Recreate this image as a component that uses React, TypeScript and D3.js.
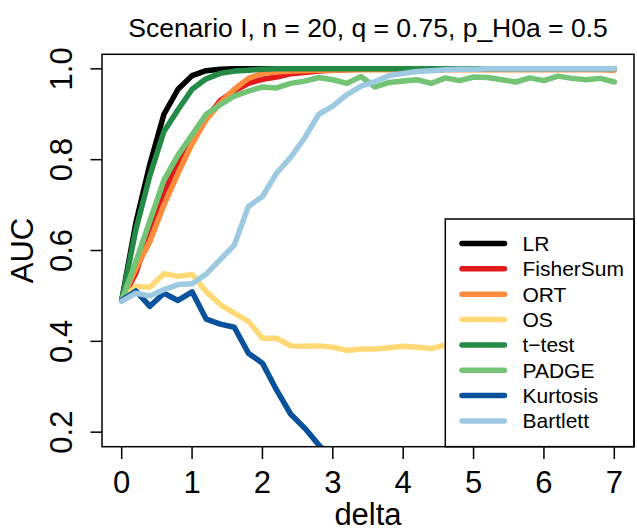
import React from "react";
import * as d3 from "d3";

const deltas = [0, 0.2, 0.4, 0.6, 0.8, 1.0, 1.2, 1.4, 1.6, 1.8, 2.0, 2.2, 2.4, 2.6, 2.8, 3.0, 3.2, 3.4, 3.6, 3.8, 4.0, 4.2, 4.4, 4.6, 4.8, 5.0, 5.2, 5.4, 5.6, 5.8, 6.0, 6.2, 6.4, 6.6, 6.8, 7.0];

const LR = [0.49, 0.66, 0.79, 0.9, 0.955, 0.985, 0.996, 0.999, 1, 1, 1, 1, 1, 1, 1, 1, 1, 1, 1, 1, 1, 1, 1, 1, 1, 1, 1, 1, 1, 1, 1, 1, 1, 1, 1, 1];
const FisherSum = [0.49, 0.55, 0.64, 0.73, 0.79, 0.845, 0.89, 0.93, 0.951, 0.968, 0.977, 0.982, 0.989, 0.992, 0.995, 0.997, 0.998, 0.999, 0.999, 1, 1, 1, 1, 1, 1, 1, 1, 1, 1, 1, 1, 1, 1, 1, 1, 1];
const ORT = [0.49, 0.56, 0.62, 0.7, 0.77, 0.835, 0.888, 0.925, 0.955, 0.979, 0.99, 0.993, 0.995, 0.996, 0.997, 0.997, 0.998, 0.998, 0.998, 0.998, 0.998, 0.998, 0.998, 0.998, 0.998, 0.998, 0.998, 0.998, 0.998, 0.998, 0.998, 0.998, 0.998, 0.998, 0.998, 0.997];
const OS = [0.49, 0.521, 0.519, 0.549, 0.543, 0.547, 0.51, 0.481, 0.462, 0.444, 0.407, 0.407, 0.39, 0.389, 0.39, 0.387, 0.38, 0.383, 0.383, 0.386, 0.389, 0.387, 0.384, 0.392, 0.39, 0.394, 0.388, 0.391, 0.395, 0.389, 0.392, 0.387, 0.393, 0.39, 0.388, 0.392];
const tTest = [0.49, 0.645, 0.765, 0.862, 0.91, 0.955, 0.978, 0.99, 0.995, 0.997, 0.999, 1, 1, 1, 1, 1, 1, 1, 1, 1, 1, 1, 1, 1, 1, 1, 1, 1, 1, 1, 1, 1, 1, 1, 1, 1];
const PADGE = [0.49, 0.575, 0.665, 0.755, 0.81, 0.855, 0.9, 0.921, 0.94, 0.951, 0.96, 0.958, 0.968, 0.973, 0.981, 0.976, 0.968, 0.983, 0.96, 0.97, 0.973, 0.976, 0.968, 0.98, 0.974, 0.982, 0.981, 0.976, 0.971, 0.98, 0.974, 0.984, 0.979, 0.976, 0.979, 0.971];
const Kurtosis = [0.49, 0.511, 0.477, 0.506, 0.49, 0.509, 0.449, 0.438, 0.431, 0.374, 0.352, 0.293, 0.24, 0.209, 0.172, 0.14, 0.12, 0.1, 0.09, 0.08, 0.07, 0.065, 0.06, 0.055, 0.05, 0.045, 0.04, 0.04, 0.035, 0.03, 0.03, 0.025, 0.025, 0.02, 0.02, 0.02];
const Bartlett = [0.488, 0.506, 0.5, 0.514, 0.525, 0.527, 0.548, 0.58, 0.612, 0.697, 0.719, 0.77, 0.805, 0.848, 0.9, 0.918, 0.943, 0.962, 0.972, 0.985, 0.99, 0.994, 0.996, 0.998, 0.999, 0.999, 1, 1, 1, 1, 1, 1, 1, 1, 1, 1];

const seriesNames = ["LR", "FisherSum", "ORT", "OS", "t\u2212test", "PADGE", "Kurtosis", "Bartlett"];
const seriesValues = [LR, FisherSum, ORT, OS, tTest, PADGE, Kurtosis, Bartlett];
const seriesColors = ["#000000", "#E31A1C", "#FD8D3C", "#FED976", "#238B45", "#74C476", "#08519C", "#9ECAE1"];

const xTicks = [0, 1, 2, 3, 4, 5, 6, 7];
const yTicks = [0.2, 0.4, 0.6, 0.8, 1.0];
const title = "Scenario I, n = 20, q = 0.75, p_H0a = 0.5";

const W = 637;
const H = 530;
const L = 102, R = 634, T = 54.3, B = 446.7;
const FONT = "'Liberation Sans', Arial, Helvetica, sans-serif";

export default function App() {
  const x = d3.scaleLinear().domain([-0.28, 7.28]).range([L, R]);
  const y = d3.scaleLinear().domain([0.168, 1.032]).range([B, T]);
  const line = d3
    .line<number>()
    .x((_, i) => x(deltas[i]))
    .y((d) => y(d));

  const legL = 445.3;
  const legT = 219;
  const rowH = 25.35;
  const row0 = 243.5;

  return (
    <svg
      width={W}
      height={H}
      style={{ position: "absolute", left: 0, top: 0, background: "#fff" }}
      fontFamily={FONT}
    >
      <defs>
        <clipPath id="plotclip">
          <rect x={L} y={T} width={R - L} height={B - T} />
        </clipPath>
      </defs>
      <rect x={0} y={0} width={W} height={H} fill="#fff" />
      <text x={(L + R) / 2} y={37} textAnchor="middle" fontSize={26.5} fill="#000">
        {title}
      </text>
      <g clipPath="url(#plotclip)">
        {seriesValues.map((vals, i) => (
          <path
            key={seriesNames[i]}
            d={line(vals) || ""}
            fill="none"
            stroke={seriesColors[i]}
            strokeWidth={5.5}
            strokeLinejoin="round"
            strokeLinecap="round"
          />
        ))}
      </g>
      {/* legend */}
      <rect x={legL} y={legT} width={R - legL} height={B - legT} fill="#fff" stroke="#000" strokeWidth={1.5} />
      {seriesNames.map((name, i) => (
        <g key={name}>
          <line
            x1={462}
            x2={504.5}
            y1={row0 + i * rowH}
            y2={row0 + i * rowH}
            stroke={seriesColors[i]}
            strokeWidth={5.5}
            strokeLinecap="round"
          />
          <text x={522.5} y={row0 + i * rowH} dominantBaseline="central" fontSize={21} fill="#000">
            {name}
          </text>
        </g>
      ))}
      {/* box */}
      <rect x={L} y={T} width={R - L} height={B - T} fill="none" stroke="#000" strokeWidth={1.5} />
      {/* x axis */}
      {xTicks.map((t) => (
        <g key={"x" + t}>
          <line x1={x(t)} x2={x(t)} y1={B} y2={459} stroke="#000" strokeWidth={1.5} />
          <text x={x(t)} y={493} textAnchor="middle" fontSize={31} fill="#000">
            {String(t)}
          </text>
        </g>
      ))}
      {/* y axis */}
      {yTicks.map((t) => (
        <g key={"y" + t}>
          <line x1={L} x2={90.5} y1={y(t)} y2={y(t)} stroke="#000" strokeWidth={1.5} />
          <text
            transform={`translate(71.7,${y(t)}) rotate(-90)`}
            textAnchor="middle"
            fontSize={31}
            fill="#000"
          >
            {t.toFixed(1)}
          </text>
        </g>
      ))}
      <text x={(L + R) / 2} y={525} textAnchor="middle" fontSize={31} fill="#000">
        delta
      </text>
      <text transform={`translate(33,${(T + B) / 2}) rotate(-90)`} textAnchor="middle" fontSize={31} fill="#000">
        AUC
      </text>
    </svg>
  );
}
